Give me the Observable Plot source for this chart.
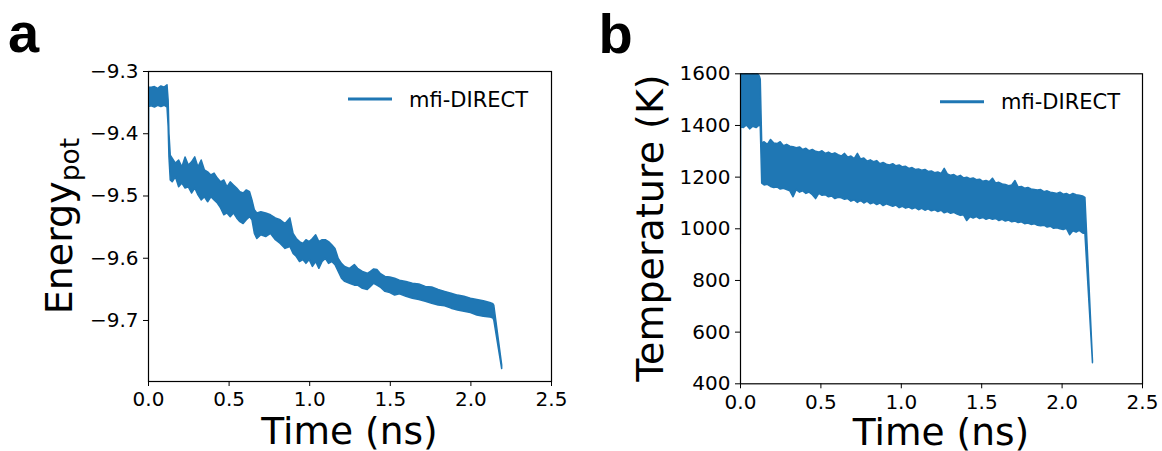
<!DOCTYPE html>
<html>
<head>
<meta charset="utf-8">
<script src="https://cdn.jsdelivr.net/npm/d3@7"></script>
<script src="https://cdn.jsdelivr.net/npm/@observablehq/plot@0.6"></script>
<style>
  html, body { margin: 0; padding: 0; background: white; }
  #fig { position: relative; width: 1162px; height: 451px; display: flex; }
  #fig svg { display: block; flex: none; }
</style>
</head>
<body>
<div id="fig"></div>
<script>
// ---- Panel a: potential energy envelope ----
const energyTime = [0.000,0.004,0.02,0.04,0.06,0.08,0.10,0.118,0.125,0.13,0.138,0.15,0.17,0.19,0.21,0.23,0.25,0.27,0.29,0.31,0.33,0.35,0.37,0.39,0.41,0.43,0.45,0.47,0.49,0.51,0.53,0.55,0.57,0.59,0.61,0.63,0.645,0.66,0.675,0.70,0.73,0.76,0.79,0.82,0.85,0.88,0.90,0.92,0.94,0.96,0.98,1.00,1.02,1.04,1.06,1.08,1.10,1.12,1.14,1.16,1.18,1.20,1.22,1.25,1.28,1.30,1.33,1.36,1.38,1.40,1.42,1.44,1.47,1.50,1.53,1.56,1.60,1.64,1.68,1.72,1.76,1.80,1.84,1.88,1.92,1.96,2.00,2.04,2.08,2.12,2.14,2.145,2.194];
const energyHigh = [-9.330,-9.326,-9.326,-9.325,-9.328,-9.324,-9.326,-9.322,-9.347,-9.400,-9.435,-9.440,-9.448,-9.443,-9.454,-9.438,-9.451,-9.446,-9.438,-9.454,-9.443,-9.459,-9.462,-9.467,-9.464,-9.472,-9.478,-9.475,-9.486,-9.478,-9.483,-9.488,-9.494,-9.496,-9.491,-9.494,-9.507,-9.523,-9.528,-9.526,-9.528,-9.531,-9.536,-9.539,-9.545,-9.536,-9.561,-9.569,-9.574,-9.577,-9.571,-9.574,-9.569,-9.563,-9.574,-9.571,-9.571,-9.574,-9.579,-9.585,-9.601,-9.609,-9.614,-9.617,-9.611,-9.617,-9.622,-9.625,-9.622,-9.618,-9.619,-9.625,-9.630,-9.631,-9.633,-9.636,-9.638,-9.641,-9.642,-9.646,-9.647,-9.651,-9.654,-9.657,-9.660,-9.662,-9.665,-9.667,-9.669,-9.672,-9.674,-9.676,-9.772];
const energyLow  = [-9.662,-9.357,-9.356,-9.358,-9.355,-9.357,-9.355,-9.358,-9.389,-9.438,-9.475,-9.478,-9.470,-9.486,-9.480,-9.488,-9.486,-9.496,-9.488,-9.499,-9.507,-9.502,-9.510,-9.502,-9.507,-9.512,-9.520,-9.531,-9.528,-9.534,-9.528,-9.536,-9.542,-9.545,-9.539,-9.534,-9.539,-9.561,-9.569,-9.563,-9.566,-9.561,-9.571,-9.577,-9.585,-9.582,-9.593,-9.598,-9.606,-9.603,-9.609,-9.603,-9.614,-9.606,-9.617,-9.606,-9.601,-9.609,-9.606,-9.611,-9.622,-9.633,-9.638,-9.641,-9.644,-9.644,-9.649,-9.651,-9.646,-9.641,-9.644,-9.647,-9.654,-9.656,-9.660,-9.658,-9.662,-9.665,-9.667,-9.670,-9.673,-9.676,-9.677,-9.681,-9.684,-9.686,-9.688,-9.692,-9.694,-9.695,-9.697,-9.700,-9.778];

// ---- Panel b: temperature envelope ----
const tempTime = [0.000,0.004,0.02,0.04,0.06,0.08,0.10,0.12,0.126,0.135,0.15,0.17,0.19,0.21,0.23,0.25,0.27,0.29,0.31,0.33,0.35,0.37,0.39,0.41,0.43,0.45,0.47,0.49,0.51,0.53,0.55,0.57,0.59,0.61,0.63,0.65,0.67,0.69,0.71,0.73,0.75,0.77,0.79,0.81,0.83,0.85,0.87,0.89,0.91,0.93,0.95,0.97,0.99,1.01,1.03,1.05,1.07,1.09,1.11,1.13,1.15,1.17,1.19,1.21,1.23,1.25,1.27,1.29,1.31,1.33,1.35,1.37,1.39,1.41,1.43,1.45,1.47,1.49,1.51,1.53,1.55,1.57,1.59,1.61,1.63,1.65,1.67,1.69,1.71,1.73,1.75,1.77,1.79,1.81,1.83,1.85,1.87,1.89,1.91,1.93,1.95,1.97,1.99,2.01,2.03,2.05,2.07,2.09,2.11,2.13,2.145,2.192];
const tempHigh = [1600,1600,1605,1600,1608,1600,1605,1590,1577,1330,1335,1325,1344,1330,1328,1335,1320,1325,1318,1316,1312,1315,1305,1310,1300,1305,1298,1295,1300,1290,1295,1288,1292,1285,1280,1290,1275,1280,1270,1290,1268,1272,1260,1265,1258,1262,1250,1255,1248,1245,1250,1242,1245,1238,1240,1232,1235,1228,1230,1225,1228,1220,1222,1215,1218,1212,1232,1210,1205,1208,1200,1205,1195,1198,1192,1195,1188,1190,1182,1185,1180,1194,1175,1178,1172,1170,1165,1168,1185,1160,1162,1155,1158,1152,1150,1148,1150,1142,1145,1140,1138,1135,1140,1132,1135,1128,1135,1130,1128,1125,1120,488];
const tempLow  = [568,1395,1390,1400,1385,1395,1390,1400,1395,1175,1168,1170,1162,1158,1160,1152,1155,1150,1145,1122,1150,1140,1145,1135,1140,1130,1115,1135,1128,1130,1122,1125,1115,1120,1118,1112,1115,1105,1110,1100,1108,1098,1105,1095,1100,1092,1098,1088,1095,1090,1085,1090,1080,1085,1078,1082,1075,1080,1072,1077,1070,1075,1068,1072,1065,1070,1060,1065,1058,1062,1055,1050,1052,1030,1045,1040,1045,1038,1042,1035,1040,1035,1038,1030,1035,1028,1032,1025,1028,1022,1025,1018,1020,1015,1018,1012,1010,1012,1005,1008,1000,1002,998,995,1000,975,990,985,992,982,980,480];

// ---- Axis ticks and labels ----
const timeTicks = [0, 0.5, 1.0, 1.5, 2.0, 2.5];
const energyTicks = [-9.3, -9.4, -9.5, -9.6, -9.7];
const tempTicks = [400, 600, 800, 1000, 1200, 1400, 1600];
const seriesName = "mfi-DIRECT";

const blue = "#1f77b4";
const font = "DejaVu Sans, sans-serif";

function rows(t, hi, lo) {
  return t.map((d, i) => ({t: d, high: hi[i], low: lo[i]}));
}

function panel({data, yDomain, yTicks, yFormat, mL, mR, mT, mB}) {
  return Plot.plot({
    width: 581, height: 451,
    marginLeft: mL, marginRight: mR, marginTop: mT, marginBottom: mB,
    style: {fontFamily: font, fontSize: "20px", color: "black", background: "white", overflow: "visible"},
    x: {domain: [0, 2.5]},
    y: {domain: yDomain},
    marks: [
      Plot.areaY(data, {x: "t", y1: "low", y2: "high", fill: blue, stroke: blue, strokeWidth: 1.5, clip: true}),
      Plot.axisX(timeTicks, {tickFormat: d3.format(".1f"), tickSize: 5, tickPadding: 5.5, fontSize: 20, label: null}),
      Plot.axisY(yTicks, {tickFormat: yFormat, tickSize: 5, tickPadding: 5, fontSize: 20, label: null}),
      Plot.frame({stroke: "black", strokeWidth: 1.2})
    ]
  });
}

const plotA = panel({
  data: rows(energyTime, energyHigh, energyLow),
  yDomain: [-9.798, -9.3], yTicks: energyTicks, yFormat: d3.format(".1f"),
  mL: 148, mR: 30, mT: 71, mB: 70
});
const plotB = panel({
  data: rows(tempTime, tempHigh, tempLow),
  yDomain: [400, 1600], yTicks: tempTicks, yFormat: d3.format("d"),
  mL: 159, mR: 20, mT: 73.3, mB: 67.7
});

const fig = document.getElementById("fig");
fig.append(plotA, plotB);

function addText(svg, x, y, str, size, opts = {}) {
  const t = svg.append("text").attr("x", x).attr("y", y)
    .attr("text-anchor", opts.anchor || "start")
    .attr("font-family", opts.family || font)
    .attr("font-size", size).attr("fill", "black");
  if (opts.weight) t.attr("font-weight", opts.weight);
  if (str != null) t.text(str);
  return t;
}

function decorate(svgEl, {letter, letterX, letterY, frameL, frameR, xLabelY, yLabelX, yLabelY, legendY, build}) {
  const svg = d3.select(svgEl);
  addText(svg, letterX, letterY, letter, 56, {family: "Liberation Sans, Arial, sans-serif", weight: "bold"});
  addText(svg, (frameL + frameR) / 2, xLabelY, "Time (ns)", 37.5, {anchor: "middle"});
  const yl = svg.append("text").attr("transform", `translate(${yLabelX},${yLabelY}) rotate(-90)`)
    .attr("text-anchor", "middle").attr("font-family", font).attr("font-size", 38).attr("fill", "black");
  build(yl);
  svg.append("line").attr("x1", frameL + 200).attr("x2", frameL + 244)
    .attr("y1", legendY).attr("y2", legendY).attr("stroke", blue).attr("stroke-width", 2.9);
  addText(svg, frameL + 261, legendY + 7.7, seriesName, 21);
}

decorate(plotA, {
  letter: "a", letterX: 8, letterY: 52, frameL: 148, frameR: 551,
  xLabelY: 443.5, yLabelX: 72, yLabelY: 226, legendY: 99,
  build: t => {
    t.append("tspan").text("Energy");
    t.append("tspan").attr("font-size", 26.6).attr("dy", 7).text("pot");
  }
});
decorate(plotB, {
  letter: "b", letterX: 17.5, letterY: 53, frameL: 159, frameR: 561,
  xLabelY: 445, yLabelX: 82, yLabelY: 228, legendY: 101.7,
  build: t => { t.text("Temperature (K)"); }
});
</script>
</body>
</html>
